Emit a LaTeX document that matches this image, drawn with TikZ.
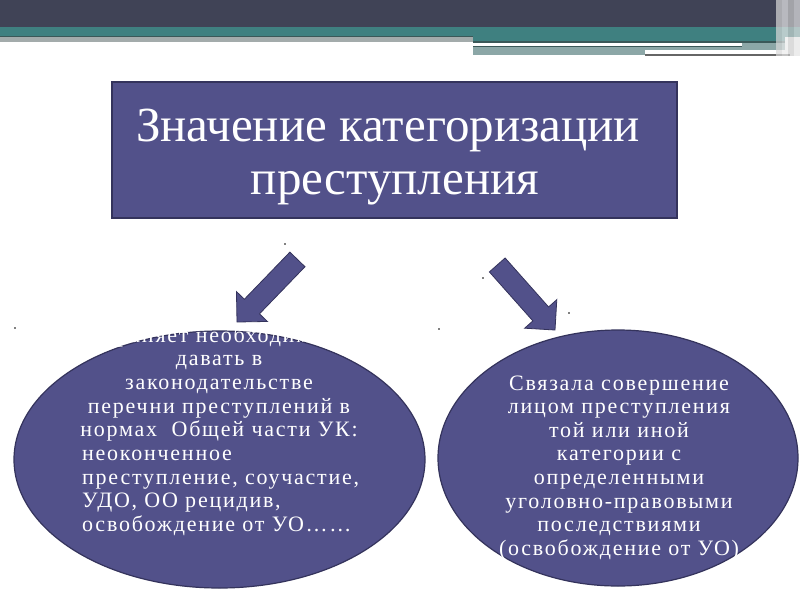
\documentclass[tikz,border=0pt]{standalone}
\usepackage{fontspec}
\setmainfont{Liberation Serif}
\newfontfamily\widefont[LetterSpace=8]{Liberation Serif}
\usetikzlibrary{shapes,positioning}

\definecolor{slate}{HTML}{52518A}
\definecolor{slateedge}{HTML}{34335C}
\definecolor{bandtop}{HTML}{404356}
\definecolor{bandteal}{HTML}{3F8080}
\definecolor{bandgray}{HTML}{A3ABAB}
\definecolor{bandpale}{HTML}{8CA7A7}
\definecolor{banddark}{HTML}{3B5858}

\tikzset{
  titlebox/.style={rectangle, fill=slate, draw=slateedge, line width=1.2pt,
    minimum width=565pt, minimum height=136pt, inner sep=0pt},
  titletext/.style={text=white, font=\fontsize{49}{54}\selectfont, inner sep=0pt, anchor=base},
  oval/.style={ellipse, fill=slate, draw=slateedge, line width=1.2pt, inner sep=0pt},
  ovaltext/.style={text=white, font=\widefont\fontsize{22}{24}\selectfont, inner sep=0pt},
  speck/.style={circle, fill=black, inner sep=0pt, minimum size=1.8pt},
  blockarrow/.pic={
    \filldraw[fill=slate, draw=slateedge, line width=0.8pt]
      (0,0) -- (-21.5,21.5) -- (-21.5,10.5) -- (-87,10.5)
      -- (-87,-10.5) -- (-21.5,-10.5) -- (-21.5,-21.5) -- cycle;
  }
}

\begin{document}
\begin{tikzpicture}[x=1pt, y=1pt]
    \useasboundingbox (0,0) rectangle (800,-600);
    \fill[white] (0,0) rectangle (800,-600);

    % Header band
    \fill[bandtop] (0,0) rectangle (800,-27);
    \fill[bandteal] (0,-27) rectangle (800,-37);
    \fill[banddark] (0,-35.5) rectangle (473,-37);
    \fill[bandgray] (0,-37) rectangle (473,-42);
    \fill[bandteal] (473,-37) rectangle (785,-41);
    \fill[banddark] (473,-41) rectangle (785,-42.7);
    \fill[bandpale] (473,-42.7) rectangle (785,-55);
    \fill[white] (473,-42.7) rectangle (742,-45.7);
    \fill[banddark] (473,-45.7) rectangle (742,-47.3);
    \fill[white] (645,-50) rectangle (785,-54.3);
    \fill[gray!80!black] (645,-54.3) rectangle (790,-56);
    \foreach \x/\c in {776/30, 782/15, 788/40, 794/20} {
        \fill[gray!\c, opacity=0.7] (\x,0) rectangle (\x+6,-56);
    }

    % Title
    \node[titlebox] (title) at (394.5,-150) {};
    \node[titletext] (title1) at (388,-141) {Значение категоризации};
    \node[titletext] (title2) at (395,-194) {преступления};

    % Ovals
    \node[oval, minimum width=411pt, minimum height=257pt] (left) at (219.5,-459.5) {};
    \node[oval, minimum width=360pt, minimum height=256pt] (right) at (618,-458) {};

    % Arrows
    \pic[rotate=226] at (237,-322) {blockarrow};
    \pic[rotate=-48.4] at (555,-330) {blockarrow};

    % Stray dots
    \node[speck] (d1) at (285,-244) {};
    \node[speck] (d2) at (15,-328) {};
    \node[speck] (d3) at (483,-278) {};
    \node[speck] (d4) at (569,-313) {};
    \node[speck] (d5) at (439,-329) {};

    % Left text
    \foreach \txt [count=\i from 0] in {Устраняет необходимость, давать в,
        законодательстве, перечни преступлений в, нормах~ Общей части УК:} {
        \node[ovaltext, anchor=base] (l\i) at (219,-342-23.7*\i) {\txt};
    }
    \foreach \txt [count=\i from 5] in {неоконченное, {преступление, соучастие,},
        {УДО, ОО рецидив,}, освобождение от УО……} {
        \node[ovaltext, anchor=base west] (l\i) at (82,-342-23.7*\i) {\txt};
    }

    % Right text
    \foreach \txt [count=\i from 0] in {Связала совершение, лицом преступления,
        той или иной, категории с, определенными, уголовно-правовыми,
        последствиями, (освобождение от УО)} {
        \node[ovaltext, anchor=base] (r\i) at (619,-390-23.6*\i) {\txt};
    }
\end{tikzpicture}
\end{document}
